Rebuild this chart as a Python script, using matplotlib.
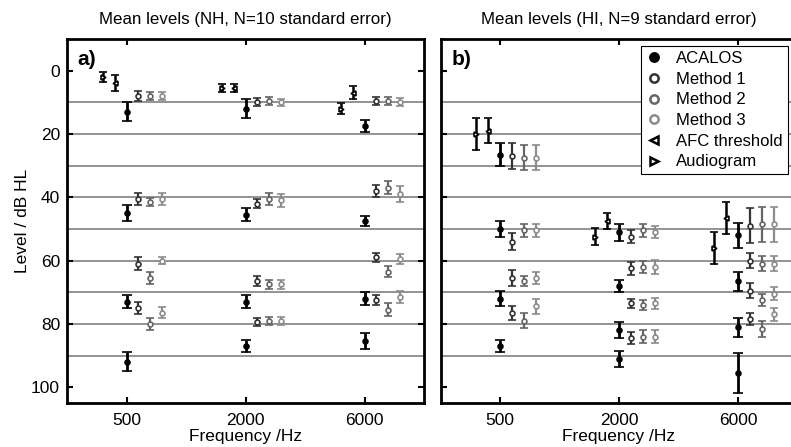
import numpy as np
import matplotlib
matplotlib.use("Agg")
import matplotlib.pyplot as plt
from matplotlib.lines import Line2D

plt.rcParams['font.family'] = ['Liberation Sans', 'DejaVu Sans']

freq_labels = ["500", "2000", "6000"]
titles = ["Mean levels (NH, N=10 standard error)", "Mean levels (HI, N=9 standard error)"]
panel_tags = ["a)", "b)"]
legend_names = ["ACALOS", "Method 1", "Method 2", "Method 3", "AFC threshold", "Audiogram"]

# NH group: one row per frequency, one value per level cluster
nh_acalos = [[13, 45, 73, 92], [12, 45.5, 73, 87], [17.5, 47.5, 72, 85.5]]
nh_acalos_se = [[3, 2.5, 2, 3], [3, 2, 2, 1.8], [1.8, 1.5, 2, 2.5]]
nh_m1 = [[8, 40.5, 61, 75], [10, 42, 66.5, 79.5], [9.5, 38, 59, 72.5]]
nh_m1_se = [[1.5, 2, 2, 1.8], [1.3, 1.5, 1.5, 1.3], [1.3, 2, 1.5, 1.5]]
nh_m2 = [[8, 41.5, 65.5, 80], [9.5, 40.5, 67.5, 79], [9.5, 37, 63.5, 75.5]]
nh_m2_se = [[1.3, 1.2, 1.8, 2], [1.2, 1.8, 1.5, 1.2], [1.3, 2, 1.8, 2]]
nh_m3 = [[8, 40.5, 60, 76.5], [10, 41, 67.5, 79], [10, 39, 59.5, 71.5]]
nh_m3_se = [[1.3, 2, 1.2, 1.8], [1.2, 2, 1.5, 1.2], [1.3, 2.5, 1.5, 1.8]]
nh_afc = [4, 5.5, 7]
nh_afc_se = [2.5, 1.2, 2]
nh_audio = [2, 5.5, 12]
nh_audio_se = [1.5, 1.2, 1.8]

# HI group
hi_acalos = [[26.5, 50, 72, 87], [51, 68, 82, 91], [52, 66.5, 81, 95.5]]
hi_acalos_se = [[3.5, 2.5, 2.3, 1.8], [2.7, 2, 2.5, 2.5], [4, 3, 3, 6.3]]
hi_m1 = [[27, 54, 65.5, 76.5], [52.5, 62.5, 73.5, 84.5], [49, 60, 69.5, 78.5]]
hi_m1_se = [[4, 2.7, 2.5, 2.2], [2, 2, 1.5, 2], [5.5, 2.3, 2.3, 1.8]]
hi_m2 = [[27.5, 50.5, 66.5, 79], [50.5, 62, 74, 84], [48.5, 61, 72.5, 81.5]]
hi_m2_se = [[4, 2, 1.5, 2.3], [2, 2, 1.5, 2.2], [5.5, 2.3, 2, 2.5]]
hi_m3 = [[27.5, 50.5, 65.5, 74.5], [51, 62, 73.5, 84], [48.5, 61, 70.5, 77]]
hi_m3_se = [[4, 2, 2, 2.3], [2, 2.2, 1.8, 2.2], [5.5, 2.3, 2, 2]]
hi_afc = [19, 47.5, 46.5]
hi_afc_se = [4, 2.5, 5]
hi_audio = [20, 52.5, 56]
hi_audio_se = [5, 2.7, 5]

# marker, colour, face, offset, error line width, cap size
styles = [
    ("o", "black", "black", 0.0, 2.0, 3.6),
    ("o", "#333333", "white", 0.1, 1.6, 3.0),
    ("o", "#666666", "white", 0.2, 1.6, 3.0),
    ("o", "#8c8c8c", "white", 0.3, 1.6, 3.0),
    ("<", "black", "white", -0.1, 1.8, 3.2),
    (">", "black", "white", -0.2, 1.8, 3.2),
]


def plot_series(ax, vals, se, style):
    marker, color, face, offset, lw, cap = style
    v = np.array(vals, dtype=float).reshape(len(freq_labels), -1)
    e = np.array(se, dtype=float).reshape(v.shape)
    x = np.repeat(np.arange(1, len(freq_labels) + 1), v.shape[1]) + offset
    ax.errorbar(x, v.ravel(), yerr=e.ravel(), fmt=marker, color=color, mfc=face,
                mec=color, ms=3.5, mew=1.2, elinewidth=lw, capsize=cap,
                capthick=lw, zorder=3)


def setup_axes(ax, title, tag):
    for lev in range(10, 100, 10):
        ax.axhline(lev, color="#8a8a8a", lw=1.3, zorder=1)
    ax.set_xlim(0.5, 3.5)
    ax.set_ylim(105, -10)
    ax.set_xticks([1, 2, 3])
    ax.set_xticklabels(freq_labels)
    ax.set_yticks(range(0, 101, 20))
    ax.tick_params(direction="in", top=True, right=True, length=4, width=1.5,
                   labelsize=12.5, pad=5)
    ax.tick_params(axis="x", pad=7)
    for sp in ax.spines.values():
        sp.set_linewidth(2)
    ax.set_title(title, fontsize=12.2, pad=11)
    ax.set_xlabel("Frequency /Hz", fontsize=12.5, labelpad=1)
    ax.text(0.03, 0.97, tag, transform=ax.transAxes, fontsize=15,
            fontweight="bold", va="top", ha="left")


fig = plt.figure(figsize=(7.91, 4.47), dpi=100)
ax_a = fig.add_axes([67 / 791, 44 / 447, 357 / 791, 364 / 447])
ax_b = fig.add_axes([440.5 / 791, 44 / 447, 357 / 791, 364 / 447])

panels = [
    (ax_a, [nh_acalos, nh_m1, nh_m2, nh_m3, nh_afc, nh_audio],
     [nh_acalos_se, nh_m1_se, nh_m2_se, nh_m3_se, nh_afc_se, nh_audio_se]),
    (ax_b, [hi_acalos, hi_m1, hi_m2, hi_m3, hi_afc, hi_audio],
     [hi_acalos_se, hi_m1_se, hi_m2_se, hi_m3_se, hi_afc_se, hi_audio_se]),
]

for i, (ax, vals, ses) in enumerate(panels):
    setup_axes(ax, titles[i], panel_tags[i])
    for v, e, st in zip(vals, ses, styles):
        plot_series(ax, v, e, st)

ax_a.set_ylabel("Level / dB HL", fontsize=12.5, labelpad=1)
ax_b.tick_params(labelleft=False)

handles = [Line2D([], [], marker=st[0], color=st[1], mfc=st[2], mec=st[1],
                  linestyle="none", ms=6, mew=1.8) for st in styles]
leg = ax_b.legend(handles, legend_names, loc="upper left",
                  bbox_to_anchor=(641 / 791, 1 - 46 / 447),
                  bbox_transform=fig.transFigure, fontsize=12,
                  frameon=True, fancybox=False, framealpha=1,
                  borderpad=0.3, labelspacing=0.34, handlelength=1.0,
                  handletextpad=0.8, borderaxespad=0)
leg.get_frame().set_edgecolor("black")
leg.get_frame().set_linewidth(0.8)

fig.savefig("out.png", dpi=100)
